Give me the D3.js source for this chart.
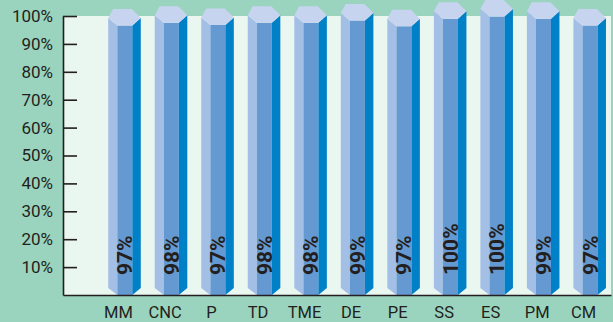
<!DOCTYPE html>
<html lang="en">
<head>
<meta charset="UTF-8">
<title>Hex bars</title>
<style>
  html, body { margin: 0; padding: 0; background: #9ad4be; }
  svg { display: block; }
  text { font-family: Roboto, "Liberation Sans", sans-serif; fill: #231f20; }
</style>
</head>
<body>
<svg id="svg" width="613" height="322"></svg>
<script src="https://d3js.org/d3.v7.min.js"></script>
<script>
// ------ DATA ------------------------
const categories = ['MM', 'CNC', 'P', 'TD', 'TME', 'DE', 'PE', 'SS', 'ES', 'PM', 'CM']
// bar heights
const values = [96.6, 97.6, 96.8, 97.6, 97.6, 98.4, 96.3, 99.0, 99.8, 99.0, 96.6]
// printed labels
const valueLabels = ['97%', '98%', '97%', '98%', '98%', '99%', '97%', '100%', '100%', '99%', '97%']
const yTicks = [10, 20, 30, 40, 50, 60, 70, 80, 90, 100]

// CONSTANTS
const W = 613, H = 322
const plot = { left: 63, right: 611, top: 16, bottom: 295 }

const svg = d3.select('#svg')

// backgrounds
svg.append('rect').attr('width', W).attr('height', H).attr('fill', '#9ad4be')
svg.append('rect')
  .attr('x', plot.left).attr('y', plot.top)
  .attr('width', plot.right - plot.left).attr('height', plot.bottom - plot.top)
  .attr('fill', '#eaf6f0')

// ------ SCALES ------------------------
const x = d3.scaleBand()
  .domain(categories)
  .range([plot.left, plot.right])
  .paddingInner(0.3)
  .paddingOuter(0.54)
  .align(0.9)

const y = d3.scaleLinear()
  .domain([0, 100])
  .range([plot.bottom, plot.top])

const bw = x.bandwidth()
const data = categories.map((c, i) => ({ cat: c, value: values[i], label: valueLabels[i] }))

// ------ BARS (hexagonal prisms) ------------------------
const base = y(0)
const cut = 7 // bottom bevel of the side faces
const g = svg.append('g')
const bars = g.selectAll('g.bar').data(data).enter().append('g').attr('class', 'bar')

const pts = a => a.map(p => p.join(',')).join(' ')

bars.each(function (d) {
  const x0 = x(d.cat)
  const yv = y(d.value)
  const yw = yv - 7.5
  const yt = yv - 16.5
  const fl = x0 + 0.28 * bw, fr = x0 + 0.74 * bw, xr = x0 + bw
  const sel = d3.select(this)
  // left face
  sel.append('polygon').attr('fill', '#a3bfe6')
    .attr('points', pts([[x0, yw], [fl, yv], [fl, base], [x0, base - cut]]))
  // front face
  sel.append('polygon').attr('fill', '#6599d1')
    .attr('points', pts([[fl, yv], [fr, yv], [fr, base], [fl, base]]))
  // right face
  sel.append('polygon').attr('fill', '#0080c6')
    .attr('points', pts([[fr, yv], [xr, yw], [xr, base - cut], [fr, base]]))
  // top
  sel.append('polygon').attr('fill', '#c6d4ef')
    .attr('points', pts([[x0 + 0.15 * bw, yt], [x0 + 0.72 * bw, yt], [xr, yw], [fr, yv], [fl, yv], [x0, yw]]))
  // value label, rotated
  const cx = (fl + fr) / 2
  sel.append('text')
    .attr('transform', `translate(${cx + 7.5}, ${base - 20}) rotate(-90)`)
    .attr('font-size', 21)
    .attr('font-weight', 'bold')
    .text(d.label)
})

// ------ AXES ------------------------
const leftAxis = d3.axisLeft(y)
  .tickValues(yTicks)
  .tickFormat(d => d + '%')
  .tickSizeInner(-14)
  .tickSizeOuter(0)
  .tickPadding(10)

const gy = svg.append('g')
  .attr('transform', `translate(${plot.left}, 0)`)
  .call(leftAxis)
gy.selectAll('text').attr('font-size', 17).attr('font-family', null).attr('fill', '#231f20')
gy.selectAll('line, path').attr('stroke', '#231f20').attr('stroke-width', 1.6)

const bottomAxis = d3.axisBottom(x).tickSize(0).tickPadding(11.5)
const gx = svg.append('g')
  .attr('transform', `translate(0, ${plot.bottom})`)
  .call(bottomAxis)
gx.selectAll('text').attr('font-size', 16.5).attr('font-family', null).attr('fill', '#231f20').attr('dx', -6)
gx.select('path').attr('stroke', '#231f20').attr('stroke-width', 1.6)
</script>
</body>
</html>
